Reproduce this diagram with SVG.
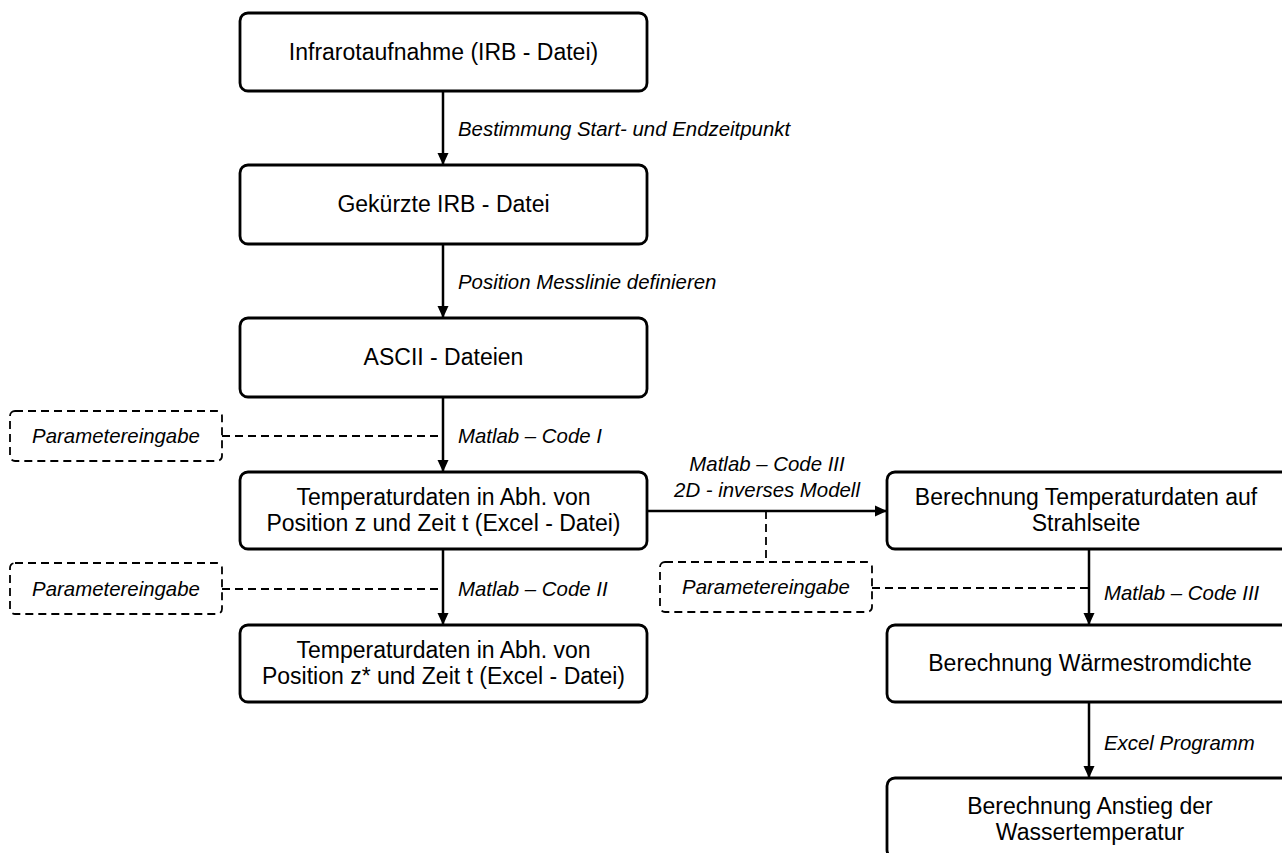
<svg xmlns="http://www.w3.org/2000/svg" width="1282" height="853" viewBox="0 0 1282 853">
<style>
.box{fill:#fff;stroke:#000;stroke-width:2.8}
.dbox{fill:#fff;stroke:#000;stroke-width:1.8;stroke-dasharray:8,5}
.t{font-family:"Liberation Sans",Arial,sans-serif;font-size:23px;fill:#000;text-anchor:middle}
.l{font-family:"Liberation Sans",Arial,sans-serif;font-size:20.4px;font-style:italic;fill:#000}
.lc{text-anchor:middle}
.ln{stroke:#000;stroke-width:2.5;fill:none}
.dl{stroke:#000;stroke-width:1.8;fill:none;stroke-dasharray:8,5}
</style>
<defs>
<marker id="ah" markerWidth="12" markerHeight="12" viewBox="0 0 12 12" refX="12" refY="6" orient="auto" markerUnits="userSpaceOnUse">
<path d="M0,0.5 L12,6 L0,11.5 z" fill="#000"/>
</marker>
</defs>
<rect width="1282" height="853" fill="#fff"/>
<g id="connectors">
<line class="ln" x1="443" y1="91" x2="443" y2="165" marker-end="url(#ah)"/>
<line class="ln" x1="443" y1="244" x2="443" y2="318" marker-end="url(#ah)"/>
<line class="ln" x1="443" y1="397" x2="443" y2="472" marker-end="url(#ah)"/>
<line class="ln" x1="443" y1="549" x2="443" y2="625" marker-end="url(#ah)"/>
<line class="ln" x1="647" y1="511" x2="887" y2="511" marker-end="url(#ah)"/>
<line class="ln" x1="1089" y1="549" x2="1089" y2="625" marker-end="url(#ah)"/>
<line class="ln" x1="1089" y1="702" x2="1089" y2="778" marker-end="url(#ah)"/>
<line class="dl" x1="222" y1="436" x2="443" y2="436"/>
<line class="dl" x1="222" y1="589" x2="443" y2="589"/>
<line class="dl" x1="872" y1="588" x2="1089" y2="588"/>
<line class="dl" x1="766" y1="511" x2="766" y2="562"/>
<text class="l" x="458" y="136">Bestimmung Start- und Endzeitpunkt</text>
<text class="l" x="458" y="289">Position Messlinie definieren</text>
<text class="l" x="458" y="443">Matlab – Code I</text>
<text class="l" x="458" y="596">Matlab – Code II</text>
<text class="l lc" x="767" y="471">Matlab – Code III</text>
<text class="l lc" x="767" y="497">2D - inverses Modell</text>
<text class="l" x="1104" y="600">Matlab – Code III</text>
<text class="l" x="1104" y="750">Excel Programm</text>
</g>
<g id="n1"><rect class="box" x="240" y="13" width="407" height="78" rx="8"/><text class="t" x="443.5" y="60">Infrarotaufnahme (IRB - Datei)</text></g>
<g id="n2"><rect class="box" x="240" y="165" width="407" height="79" rx="8"/><text class="t" x="443.5" y="212">Gekürzte IRB - Datei</text></g>
<g id="n3"><rect class="box" x="240" y="318" width="407" height="79" rx="8"/><text class="t" x="443.5" y="365">ASCII - Dateien</text></g>
<g id="n4"><rect class="box" x="240" y="472" width="407" height="77" rx="8"/><text class="t" x="443.5" y="505">Temperaturdaten in Abh. von</text><text class="t" x="443.5" y="531">Position z und Zeit t (Excel - Datei)</text></g>
<g id="n5"><rect class="box" x="240" y="625" width="407" height="77" rx="8"/><text class="t" x="443.5" y="658">Temperaturdaten in Abh. von</text><text class="t" x="443.5" y="684">Position z* und Zeit t (Excel - Datei)</text></g>
<g id="r1"><rect class="box" x="887" y="472" width="407" height="77" rx="8"/><text class="t" x="1086" y="505">Berechnung Temperaturdaten auf</text><text class="t" x="1086" y="531">Strahlseite</text></g>
<g id="r2"><rect class="box" x="887" y="625" width="407" height="77" rx="8"/><text class="t" x="1090" y="671">Berechnung Wärmestromdichte</text></g>
<g id="r3"><rect class="box" x="887" y="778" width="407" height="80" rx="8"/><text class="t" x="1090" y="814">Berechnung Anstieg der</text><text class="t" x="1090" y="840">Wassertemperatur</text></g>
<g id="p1"><rect class="dbox" x="10" y="411" width="212" height="50" rx="5"/><text class="l lc" x="116" y="443">Parametereingabe</text></g>
<g id="p2"><rect class="dbox" x="10" y="563" width="212" height="51" rx="5"/><text class="l lc" x="116" y="596">Parametereingabe</text></g>
<g id="p3"><rect class="dbox" x="660" y="562" width="212" height="50" rx="5"/><text class="l lc" x="766" y="594">Parametereingabe</text></g>
</svg>
